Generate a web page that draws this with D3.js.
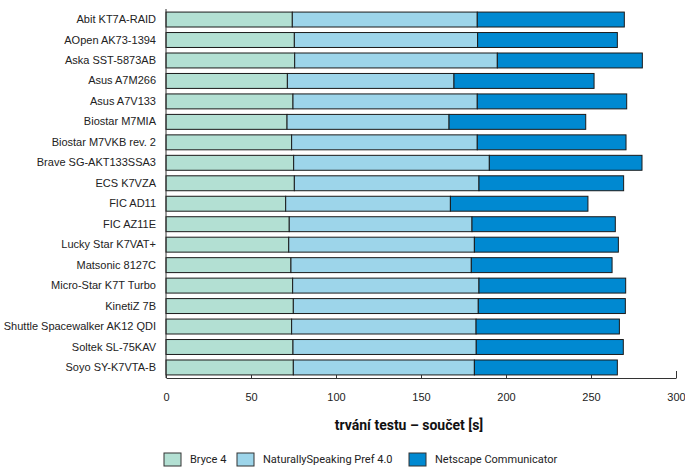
<!DOCTYPE html>
<html>
<head>
<meta charset="utf-8">
<script src="https://cdn.jsdelivr.net/npm/d3@7/dist/d3.min.js"></script>
<style>
  body { margin: 0; background: #fff; }
  svg { display: block; font-family: Roboto, "Open Sans", sans-serif; }
  .axis path, .axis line { stroke: #333; }
  .axis text { fill: #222; font-size: 11px; }
</style>
</head>
<body>
<div id="chart"></div>
<script>
var width = 685;
var height = 468;

// boards (top to bottom)
var boards = ["Abit KT7A-RAID", "AOpen AK73-1394", "Aska SST-5873AB", "Asus A7M266",
    "Asus A7V133", "Biostar M7MIA", "Biostar M7VKB rev. 2", "Brave SG-AKT133SSA3",
    "ECS K7VZA", "FIC AD11", "FIC AZ11E", "Lucky Star K7VAT+", "Matsonic 8127C",
    "Micro-Star K7T Turbo", "KinetiZ 7B", "Shuttle Spacewalker AK12 QDI",
    "Soltek SL-75KAV", "Soyo SY-K7VTA-B"];

// seconds per test
var bryce = [74.3, 75.5, 75.7, 71.4, 74.7, 71.2, 73.9, 75.1, 75.5, 70.4, 72.5, 72.2, 73.5, 74.5, 74.9, 73.9, 74.7, 74.9];
var naturally = [108.8, 107.8, 119.2, 98.0, 108.4, 95.3, 109.2, 115.1, 108.6, 96.9, 107.5, 109.2, 106.1, 109.6, 108.8, 108.5, 107.8, 106.5];
var netscape = [86.5, 82.2, 85.3, 82.4, 87.9, 80.4, 87.5, 89.8, 85.1, 80.9, 84.3, 84.7, 82.8, 86.3, 86.5, 84.3, 86.5, 84.1];

var seriesNames = ["Bryce 4", "NaturallySpeaking Pref 4.0", "Netscape Communicator"];
var seriesColors = ["#b3e0d3", "#9dd5ea", "#0089d1"];
var xTicks = [0, 50, 100, 150, 200, 250, 300];

var margin = { top: 9, right: 9, bottom: 90, left: 166 };

var table = boards.map(function (b, i) {
    return { board: b, s0: bryce[i], s1: naturally[i], s2: netscape[i] };
});
var stack = d3.stack().keys(["s0", "s1", "s2"])(table);

var x = d3.scaleLinear()
    .domain([0, 300])
    .range([margin.left, width - margin.right]);

var y = d3.scaleBand()
    .domain(boards)
    .range([margin.top, height - margin.bottom])
    .paddingInner(0.27)
    .paddingOuter(0.15);

var svg = d3.select("#chart")
    .append("svg")
    .attr("width", width)
    .attr("height", height);

// bars
svg.selectAll("g.series")
    .data(stack)
    .enter()
    .append("g")
    .attr("class", "series")
    .attr("fill", function (d, i) { return seriesColors[i]; })
    .selectAll("rect")
    .data(function (d) { return d; })
    .enter()
    .append("rect")
    .attr("x", function (d) { return x(d[0]); })
    .attr("y", function (d) { return y(d.data.board); })
    .attr("width", function (d) { return x(d[1]) - x(d[0]); })
    .attr("height", y.bandwidth())
    .attr("stroke", "#1a1a1a")
    .attr("stroke-width", 1);

// x axis
var xAxis = svg.append("g")
    .attr("class", "axis")
    .attr("transform", "translate(0," + (height - margin.bottom) + ")")
    .call(d3.axisBottom(x).tickValues(xTicks).tickSize(-3).tickPadding(15).tickSizeOuter(0));
xAxis.selectAll(".tick line")
    .filter(function (d) { return d === 300; })
    .attr("y2", -7);

// y axis
var yAxis = svg.append("g")
    .attr("class", "axis")
    .attr("transform", "translate(" + margin.left + ",0)")
    .call(d3.axisLeft(y).tickSize(0).tickPadding(10).tickSizeOuter(0));
yAxis.select(".domain")
    .attr("d", "M0," + margin.top + "V" + (height - margin.bottom));

// axis title
svg.append("text")
    .attr("x", 409)
    .attr("y", 430)
    .attr("text-anchor", "middle")
    .style("font-size", "14px")
    .style("font-weight", "bold")
    .style("fill", "#111")
    .text("trvání testu – součet [s]");

// legend
var legendX = [164, 237, 409];
var legend = svg.selectAll("g.legend")
    .data(seriesNames)
    .enter()
    .append("g")
    .attr("class", "legend")
    .attr("transform", function (d, i) { return "translate(" + legendX[i] + ",453)"; });

legend.append("rect")
    .attr("width", 17)
    .attr("height", 13)
    .attr("fill", function (d, i) { return seriesColors[i]; })
    .attr("stroke", "#333");

legend.append("text")
    .attr("x", 26)
    .attr("y", 10)
    .style("font-size", "11px")
    .style("fill", "#222")
    .text(function (d) { return d; });
</script>
</body>
</html>
